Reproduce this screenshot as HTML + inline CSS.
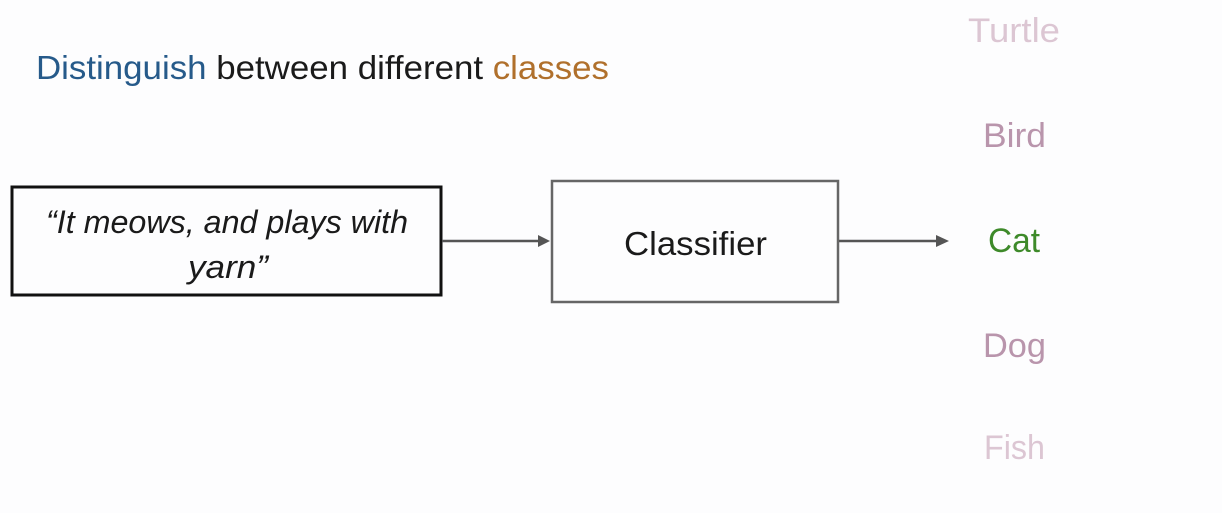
<!DOCTYPE html>
<html><head><meta charset="utf-8"><style>
html,body{margin:0;padding:0;background:#fdfdfe;}
svg{display:block;}
text{font-family:"Liberation Sans",sans-serif;}
</style></head><body>
<svg width="1222" height="513" viewBox="0 0 1222 513">
<rect width="1222" height="513" fill="#fdfdfe"/>
<text x="36" y="79" font-size="33" textLength="573" lengthAdjust="spacingAndGlyphs"><tspan fill="#265a8a">Distinguish</tspan><tspan fill="#1a1a1a"> between different </tspan><tspan fill="#b0702c">classes</tspan></text>
<rect x="12" y="187" width="429" height="108" fill="none" stroke="#111" stroke-width="3"/>
<text x="46" y="233" font-size="32" font-style="italic" fill="#1a1a1a" textLength="362" lengthAdjust="spacingAndGlyphs">“It meows, and plays with</text>
<text x="188" y="278" font-size="32" font-style="italic" fill="#1a1a1a" textLength="80" lengthAdjust="spacingAndGlyphs">yarn”</text>
<rect x="552" y="181" width="286" height="121" fill="none" stroke="#666" stroke-width="2.5"/>
<text x="624" y="255" font-size="33" fill="#1a1a1a" textLength="143" lengthAdjust="spacingAndGlyphs">Classifier</text>
<line x1="442" y1="241" x2="545" y2="241" stroke="#555" stroke-width="2.5"/>
<path d="M538,235 L550,241 L538,247 Z" fill="#555"/>
<line x1="839" y1="241" x2="943" y2="241" stroke="#555" stroke-width="2.5"/>
<path d="M936,235 L949,241 L936,247 Z" fill="#555"/>
<g font-size="34">
<text x="968" y="42" fill="#dcc6d3" textLength="92" lengthAdjust="spacingAndGlyphs">Turtle</text>
<text x="983" y="147" fill="#b995ac" textLength="63" lengthAdjust="spacingAndGlyphs">Bird</text>
<text x="988" y="252" fill="#3e8a2a" textLength="52" lengthAdjust="spacingAndGlyphs">Cat</text>
<text x="983" y="357" fill="#b995ac" textLength="63" lengthAdjust="spacingAndGlyphs">Dog</text>
<text x="984" y="459" fill="#dcc6d3" textLength="61" lengthAdjust="spacingAndGlyphs">Fish</text>
</g>
</svg>
</body></html>
